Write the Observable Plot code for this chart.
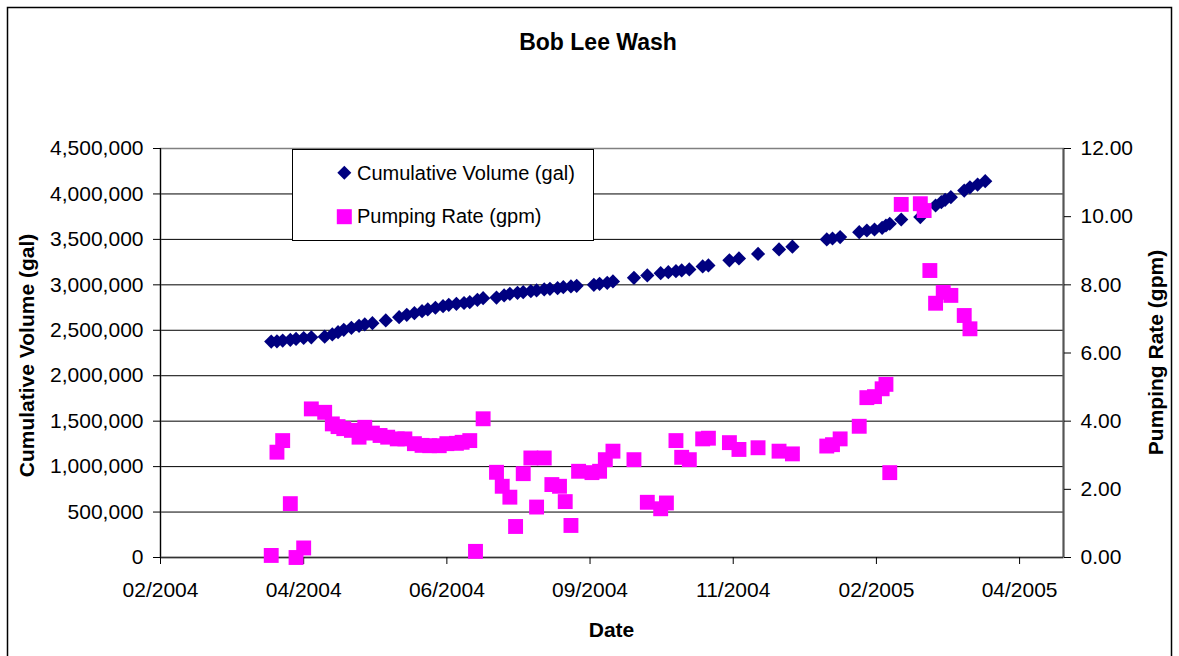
<!DOCTYPE html>
<html>
<head>
<meta charset="utf-8">
<script src="https://cdn.jsdelivr.net/npm/d3@7"></script>
<script src="https://cdn.jsdelivr.net/npm/@observablehq/plot@0.6"></script>
<style>
  html, body { margin: 0; padding: 0; background: #fff; }
  #wrap { position: relative; width: 1179px; height: 656px; overflow: hidden; font-family: "Liberation Sans", Arial, sans-serif; }
  #chart { position: absolute; left: 0; top: 0; }
  #overlay { position: absolute; left: 0; top: 0; pointer-events: none; }
</style>
</head>
<body>
<div id="wrap">
  <div id="chart"></div>
  <svg id="overlay" width="1179" height="656"></svg>
</div>
<script>
// ---------- data ----------
const titleText = "Bob Lee Wash";
const xTitle = "Date";
const yLeftTitle = "Cumulative Volume (gal)";
const yRightTitle = "Pumping Rate (gpm)";
const seriesNames = ["Cumulative Volume (gal)", "Pumping Rate (gpm)"];

const volumeDates = [
  "2004-03-30","2004-04-02","2004-04-05","2004-04-09","2004-04-12","2004-04-16","2004-04-20",
  "2004-04-27","2004-05-01","2004-05-04","2004-05-07","2004-05-11","2004-05-15","2004-05-18","2004-05-22",
  "2004-05-29",
  "2004-06-05","2004-06-09","2004-06-13","2004-06-17","2004-06-20","2004-06-24","2004-06-28","2004-07-01","2004-07-05","2004-07-09",
  "2004-07-12","2004-07-16","2004-07-19",
  "2004-07-26","2004-07-30","2004-08-02","2004-08-06","2004-08-09","2004-08-13","2004-08-16","2004-08-20","2004-08-23","2004-08-27","2004-08-30","2004-09-03","2004-09-06",
  "2004-09-15","2004-09-18","2004-09-22","2004-09-25",
  "2004-10-06","2004-10-13","2004-10-20","2004-10-24","2004-10-28","2004-10-31","2004-11-04","2004-11-11","2004-11-14","2004-11-25","2004-11-30","2004-12-10","2004-12-21","2004-12-28",
  "2005-01-15","2005-01-18","2005-01-22",
  "2005-02-01","2005-02-05","2005-02-09","2005-02-13","2005-02-15","2005-02-17","2005-02-23",
  "2005-03-05",
  "2005-03-13","2005-03-16","2005-03-18","2005-03-21",
  "2005-03-28","2005-03-31","2005-04-04","2005-04-08"
];
const volumeValues = [
  2376000, 2379000, 2387000, 2395000, 2405000, 2415000, 2422000,
  2430000, 2454000, 2479000, 2505000, 2527000, 2549000, 2564000, 2578000,
  2608000,
  2644000, 2670000, 2688000, 2710000, 2729000, 2748000, 2765000, 2780000, 2791000, 2800000,
  2809000, 2835000, 2853000,
  2860000, 2883000, 2901000, 2912000, 2919000, 2930000, 2938000, 2949000, 2956000, 2963000, 2974000, 2982000, 2989000,
  3000000, 3011000, 3022000, 3037000,
  3077000, 3103000, 3128000, 3139000, 3150000, 3158000, 3169000, 3202000, 3213000, 3270000, 3290000, 3340000, 3390000, 3420000,
  3500000, 3510000, 3525000,
  3579000, 3598000, 3609000, 3627000, 3653000, 3672000, 3719000,
  3745000,
  3873000, 3909000, 3935000, 3964000,
  4037000, 4073000, 4103000, 4140000
];

const rateDates = [
  "2004-03-30","2004-04-02","2004-04-05","2004-04-09","2004-04-12","2004-04-16","2004-04-20",
  "2004-04-27","2004-05-01","2004-05-04","2004-05-07","2004-05-11","2004-05-15","2004-05-18","2004-05-22",
  "2004-05-26","2004-05-30",
  "2004-06-04","2004-06-08","2004-06-13","2004-06-17","2004-06-21","2004-06-26","2004-06-30","2004-07-05","2004-07-08",
  "2004-07-12","2004-07-15","2004-07-19",
  "2004-07-26","2004-07-29","2004-08-02","2004-08-05","2004-08-09","2004-08-13","2004-08-16","2004-08-20","2004-08-24","2004-08-28","2004-08-31","2004-09-03","2004-09-07",
  "2004-09-14","2004-09-18","2004-09-21","2004-09-25",
  "2004-10-06","2004-10-13","2004-10-20","2004-10-23","2004-10-28","2004-10-31","2004-11-04","2004-11-11","2004-11-14","2004-11-25","2004-11-30","2004-12-10","2004-12-21","2004-12-28",
  "2005-01-15","2005-01-18","2005-01-22",
  "2005-02-01","2005-02-05","2005-02-09","2005-02-13","2005-02-15","2005-02-17","2005-02-23",
  "2005-03-05","2005-03-07","2005-03-10",
  "2005-03-13","2005-03-17","2005-03-21",
  "2005-03-28","2005-03-31"
];
const rateValues = [
  0.06, 3.09, 3.43, 1.58, 0.00, 0.28, 4.36,
  4.26, 3.92, 3.84, 3.78, 3.73, 3.53, 3.82, 3.65,
  3.58, 3.53,
  3.48, 3.48, 3.34, 3.29, 3.28, 3.28, 3.34, 3.35, 3.38,
  3.43, 0.18, 4.07,
  2.50, 2.09, 1.77, 0.91, 2.46, 2.92, 1.48, 2.92, 2.14, 2.09, 1.64, 0.94, 2.53,
  2.49, 2.53, 2.87, 3.12,
  2.87, 1.62, 1.43, 1.60, 3.43, 2.94, 2.87, 3.48, 3.50, 3.37, 3.17, 3.22, 3.12, 3.04,
  3.27, 3.31, 3.48,
  3.85, 4.69, 4.72, 4.95, 5.08, 2.49, 10.36,
  10.38, 10.18, 8.42,
  7.46, 7.78, 7.69,
  7.10, 6.71
];

// axes
const xDomain = ["2004-02-01", "2005-05-19"];
const xTicks = ["2004-02-01","2004-04-16","2004-06-30","2004-09-13","2004-11-27","2005-02-10","2005-04-26"];
const leftTicks = [0, 500000, 1000000, 1500000, 2000000, 2500000, 3000000, 3500000, 4000000, 4500000];
const rightTicks = [0, 2, 4, 6, 8, 10, 12];

// ---------- build ----------
const parse = s => new Date(s + "T00:00:00Z");
const leftMax = leftTicks[leftTicks.length - 1];
const rightMax = rightTicks[rightTicks.length - 1];
const K = leftMax / rightMax; // right-axis value -> left-axis units

const volume = volumeDates.map((d, i) => ({date: parse(d), v: volumeValues[i]}));
const rate = rateDates.map((d, i) => ({date: parse(d), v: rateValues[i]}));
const xDom = xDomain.map(parse);

const W = 1179, H = 656;
const M = {left: 160, right: 116, top: 148, bottom: 99};

const plot = Plot.plot({
  width: W, height: H,
  marginLeft: M.left, marginRight: M.right, marginTop: M.top, marginBottom: M.bottom,
  style: {fontFamily: "'Liberation Sans', Arial, sans-serif", fontSize: "21px", color: "#000", background: "transparent", overflow: "visible"},
  x: {type: "utc", domain: xDom},
  y: {domain: [0, leftMax]},
  marks: [
    Plot.ruleY(leftTicks, {stroke: "#000", strokeWidth: 1}),
    Plot.frame({stroke: "#808080", strokeWidth: 1.5}),
    Plot.ruleX(xDom.slice(0, 1), {stroke: "#000", strokeWidth: 1.2}),
    Plot.ruleX(xDom.slice(1, 2), {stroke: "#555", strokeWidth: 2}),
    Plot.ruleY(leftTicks.slice(0, 1), {stroke: "#333", strokeWidth: 1.5}),
    Plot.axisY({ticks: leftTicks, tickFormat: d3.format(","), tickSize: 7, tickPadding: 10, label: null, stroke: "#000"}),
    Plot.axisY({anchor: "right", ticks: rightTicks.map(v => v * K), tickFormat: d => (d / K).toFixed(2), tickSize: 7, tickPadding: 10, label: null}),
    Plot.axisX({ticks: xTicks.map(parse), tickFormat: d3.utcFormat("%m/%Y"), tickSize: 7, tickPadding: 18, label: null}),
    Plot.dot(volume, {x: "date", y: "v", symbol: "diamond2", r: 6.4, fill: "#000080", stroke: "none"}),
    Plot.dot(rate, {x: "date", y: d => d.v * K, symbol: "square", r: 8.4, fill: "#FF00FF", stroke: "none"})
  ]
});
document.getElementById("chart").appendChild(plot);

// ---------- overlay: border, titles, legend ----------
const ov = d3.select("#overlay").style("font-family", "'Liberation Sans', Arial, sans-serif");
ov.append("rect").attr("x", 7.5).attr("y", 7.5).attr("width", 1164).attr("height", 700)
  .attr("fill", "none").attr("stroke", "#000").attr("stroke-width", 1.5);

ov.append("text").attr("x", 598).attr("y", 50).attr("text-anchor", "middle")
  .attr("font-weight", "bold").attr("font-size", 23).text(titleText);
ov.append("text").attr("x", (M.left + W - M.right) / 2).attr("y", 637).attr("text-anchor", "middle")
  .attr("font-weight", "bold").attr("font-size", 21).text(xTitle);
ov.append("text").attr("transform", `translate(34,${(M.top + H - M.bottom) / 2 + 3}) rotate(-90)`)
  .attr("text-anchor", "middle").attr("font-weight", "bold").attr("font-size", 21).text(yLeftTitle);
ov.append("text").attr("transform", `translate(1163,${(M.top + H - M.bottom) / 2}) rotate(-90)`)
  .attr("text-anchor", "middle").attr("font-weight", "bold").attr("font-size", 21).text(yRightTitle);

const lg = ov.append("g");
lg.append("rect").attr("x", 292.5).attr("y", 149.5).attr("width", 301).attr("height", 91)
  .attr("fill", "#fff").attr("stroke", "#000").attr("stroke-width", 1);
lg.append("path").attr("d", "M344.3,165.7L351.3,172.7L344.3,179.7L337.3,172.7Z").attr("fill", "#000080");
lg.append("rect").attr("x", 336.8).attr("y", 209.2).attr("width", 15).attr("height", 15).attr("fill", "#FF00FF");
lg.append("text").attr("x", 357).attr("y", 179.5).attr("font-size", 20).text(seriesNames[0]);
lg.append("text").attr("x", 357).attr("y", 223).attr("font-size", 20).text(seriesNames[1]);
</script>
</body>
</html>
